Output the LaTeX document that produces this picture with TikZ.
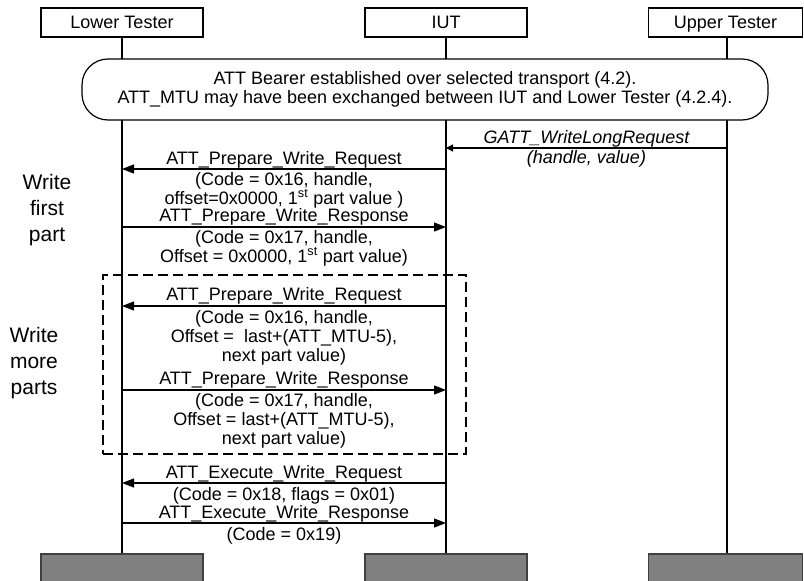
\documentclass[tikz,border=0pt]{standalone}
\usepackage{fontspec}
\setmainfont{Liberation Sans}
\usetikzlibrary{arrows.meta}
\begin{document}
\begin{tikzpicture}[x=1pt,y=-1pt,
  font=\fontsize{18}{19}\selectfont,
  hdr/.style={draw, line width=1.2pt, minimum height=29pt, inner sep=0pt, fill=white, text height=12.9pt, text depth=0pt},
  endbox/.style={draw=black!75, line width=1.2pt, fill=black!50, inner sep=0pt, minimum height=36pt},
  life/.style={line width=1.8pt},
  msg/.style={line width=1.2pt, -{Triangle[length=12pt,width=9pt]}},
  msgsmall/.style={line width=1.2pt, -{Triangle[length=7pt,width=7pt]}},
  txt/.style={anchor=base, inner sep=0pt},
  side/.style={align=center, anchor=north, inner sep=0pt, font=\fontsize{21}{26}\selectfont},
  bearerbox/.style={draw, line width=1.2pt, fill=white, rounded corners=26pt, inner sep=0pt, align=center},
  dbox/.style={draw, line width=1.2pt, dash pattern=on 10pt off 5pt, inner sep=0pt},
]
\useasboundingbox (0,0) rectangle (804,581);

% header boxes
\node[hdr, minimum width=162pt] (lt) at (122,22.5) {Lower Tester};
\node[hdr, minimum width=162pt] (iut) at (446,22.5) {IUT};
\node[hdr, minimum width=154pt] (ut) at (725.5,22.5) {Upper Tester};

% bottom boxes
\node[endbox, minimum width=162pt] (ltb) at (122,572) {};
\node[endbox, minimum width=162pt] (iutb) at (446,572) {};
\node[endbox, minimum width=154pt] (utb) at (725.5,572) {};

% lifelines
\draw[life] (lt.south) -- (ltb.north);
\draw[life] (iut.south) -- (iutb.north);
\draw[life] ([xshift=1.5pt]ut.south) -- ([xshift=1.5pt]utb.north);

% bearer box
\node[bearerbox, minimum width=686pt, minimum height=61pt] (bearer) at (425,89.5)
  {ATT Bearer established over selected transport (4.2).\\ATT\_MTU may have been exchanged between IUT and Lower Tester (4.2.4).};

% dashed box
\node[dbox, minimum width=363pt, minimum height=179pt] (more) at (284.5,364.5) {};

% side labels
\node[side] (g1) at (47,174) {Write\\first\\part};
\node[side] (g2) at (34,327) {Write\\more\\parts};

% message 1
\coordinate (m1s) at (727,148);
\coordinate (m1e) at (446,148);
\draw[msgsmall] (m1s) -- (m1e);
\node[txt, font=\fontsize{18}{19}\selectfont\itshape] (m1a) at (586.5,143) {GATT\_WriteLongRequest};
\node[txt, font=\fontsize{18}{19}\selectfont\itshape] (m1b) at (586.5,163) {(handle, value)};

% message 2
\coordinate (m2s) at (446,169);
\coordinate (m2e) at (122,169);
\draw[msg] (m2s) -- (m2e);
\node[txt] (m2a) at (284,164) {ATT\_Prepare\_Write\_Request};
\node[txt] (m2b) at (284,185) {(Code = 0x16, handle,};
\node[txt] (m2c) at (284,204) {offset=0x0000, 1\textsuperscript{st} part value )};

% message 3
\coordinate (m3s) at (122,227);
\coordinate (m3e) at (446,227);
\draw[msg] (m3s) -- (m3e);
\node[txt] (m3a) at (284,221) {ATT\_Prepare\_Write\_Response};
\node[txt] (m3b) at (284,243) {(Code = 0x17, handle,};
\node[txt] (m3c) at (284,262) {Offset = 0x0000, 1\textsuperscript{st} part value)};

% message 4
\coordinate (m4s) at (446,306);
\coordinate (m4e) at (122,306);
\draw[msg] (m4s) -- (m4e);
\node[txt] (m4a) at (284,300) {ATT\_Prepare\_Write\_Request};
\node[txt] (m4b) at (284,323) {(Code = 0x16, handle,};
\node[txt] (m4c) at (284,342) {Offset = \ last+(ATT\_MTU-5),};
\node[txt] (m4d) at (284,361) {next part value)};

% message 5
\coordinate (m5s) at (122,390);
\coordinate (m5e) at (446,390);
\draw[msg] (m5s) -- (m5e);
\node[txt] (m5a) at (284,384) {ATT\_Prepare\_Write\_Response};
\node[txt] (m5b) at (284,406) {(Code = 0x17, handle,};
\node[txt] (m5c) at (284,425) {Offset = last+(ATT\_MTU-5),};
\node[txt] (m5d) at (284,444) {next part value)};

% message 6
\coordinate (m6s) at (446,483);
\coordinate (m6e) at (122,483);
\draw[msg] (m6s) -- (m6e);
\node[txt] (m6a) at (284,478) {ATT\_Execute\_Write\_Request};
\node[txt] (m6b) at (284,500) {(Code = 0x18, flags = 0x01)};

% message 7
\coordinate (m7s) at (122,523);
\coordinate (m7e) at (446,523);
\draw[msg] (m7s) -- (m7e);
\node[txt] (m7a) at (284,518) {ATT\_Execute\_Write\_Response};
\node[txt] (m7b) at (284,540) {(Code = 0x19)};
\end{tikzpicture}
\end{document}
